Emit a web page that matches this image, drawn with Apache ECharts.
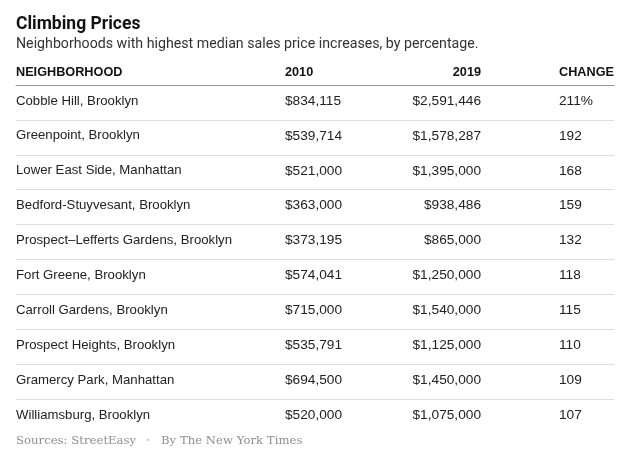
<!DOCTYPE html>
<html>
<head>
<meta charset="utf-8">
<script src="https://cdn.jsdelivr.net/npm/echarts@6/dist/echarts.min.js"></script>
<style>
  html, body { margin: 0; padding: 0; background: #fff; }
  #chart { width: 630px; height: 460px; }
</style>
</head>
<body>
<div id="chart"></div>
<script>
var headers = ['NEIGHBORHOOD', '2010', '2019', 'CHANGE'];
var neighborhoods = [
    'Cobble Hill, Brooklyn',
    'Greenpoint, Brooklyn',
    'Lower East Side, Manhattan',
    'Bedford-Stuyvesant, Brooklyn',
    'Prospect\u2013Lefferts Gardens, Brooklyn',
    'Fort Greene, Brooklyn',
    'Carroll Gardens, Brooklyn',
    'Prospect Heights, Brooklyn',
    'Gramercy Park, Manhattan',
    'Williamsburg, Brooklyn'
];
var price2010 = [834115, 539714, 521000, 363000, 373195, 574041, 715000, 535791, 694500, 520000];
var price2019 = [2591446, 1578287, 1395000, 938486, 865000, 1250000, 1540000, 1125000, 1450000, 1075000];
var changePct = [211, 192, 168, 159, 132, 118, 115, 110, 109, 107];

var nameFont = '13.2px "Liberation Sans", Arial, sans-serif';
var numFont = '13.7px "Liberation Sans", Arial, sans-serif';
var headFont = 'bold 12.7px "Liberation Sans", Arial, sans-serif';
var srcFont = '11.7px "DejaVu Serif", "Liberation Serif", serif';
var textColor = '#222';

function money(v) {
    return '$' + v.toString().replace(/\B(?=(\d{3})+(?!\d))/g, ',');
}

var myChart = echarts.init(document.getElementById('chart'));

// column anchors in x-axis units (axis spans 16..614 px)
var colX = [16, 285, 481, 559];
var colAlign = ['left', 'left', 'right', 'left'];

var option = {
    backgroundColor: '#fff',
    animation: false,
    grid: { left: 16, right: 16, top: 85, bottom: 26 },
    xAxis: {
        type: 'value', position: 'top', min: 16, max: 614,
        axisLine: { show: true, lineStyle: { color: '#999', width: 1 } },
        axisTick: { show: false },
        axisLabel: { show: false },
        splitLine: { show: false }
    },
    yAxis: {
        type: 'category', inverse: true, data: neighborhoods,
        axisLine: { show: false },
        axisTick: { show: false },
        axisLabel: { show: false },
        splitLine: { show: true, showMinLine: false, showMaxLine: false, lineStyle: { color: '#dcdcdc', width: 1 } }
    },
    graphic: [
        { type: 'text', left: 16, top: 16, style: { text: 'Climbing Prices', font: 'bold 17.5px Roboto, "Liberation Sans", sans-serif', fill: '#121212' } },
        { type: 'text', left: 16, top: 37, style: { text: 'Neighborhoods with highest median sales price increases, by percentage.', font: '14.2px Roboto, "Liberation Sans", sans-serif', fill: '#333' } },
        { type: 'text', left: 16, top: 435, style: { text: 'Sources: StreetEasy', font: srcFont, fill: '#8e8e8e' } },
        { type: 'text', left: 145, top: 436, style: { text: '\u2022', font: '9px "DejaVu Sans", sans-serif', fill: '#d0d0d0' } },
        { type: 'text', left: 161, top: 435, style: { text: 'By The New York Times', font: srcFont, fill: '#8e8e8e' } }
    ],
    series: [
        {
            type: 'custom',
            coordinateSystem: 'cartesian2d',
            encode: { x: 0, y: 1 },
            data: neighborhoods.map(function (n, i) { return [16, i]; }),
            renderItem: function (params, api) {
                var i = api.value(1);
                var cells = [neighborhoods[i], money(price2010[i]), money(price2019[i]), changePct[i] + (i === 0 ? '%' : '')];
                var children = cells.map(function (t, c) {
                    var p = api.coord([colX[c], i]);
                    return {
                        type: 'text',
                        style: { text: t, x: p[0], y: p[1] - 1.5, font: c === 0 ? nameFont : numFont, fill: textColor, textAlign: colAlign[c], textVerticalAlign: 'middle' }
                    };
                });
                if (i === 0) {
                    // header row sits above the grid's top line
                    headers.forEach(function (h, c) {
                        var p = api.coord([colX[c], i]);
                        children.push({
                            type: 'text',
                            style: { text: h, x: p[0], y: 72.5, font: headFont, fill: '#121212', textAlign: colAlign[c], textVerticalAlign: 'middle' }
                        });
                    });
                }
                return { type: 'group', children: children };
            }
        }
    ]
};

myChart.setOption(option);
window.addEventListener('resize', function () {
    myChart.resize();
});
</script>
</body>
</html>
